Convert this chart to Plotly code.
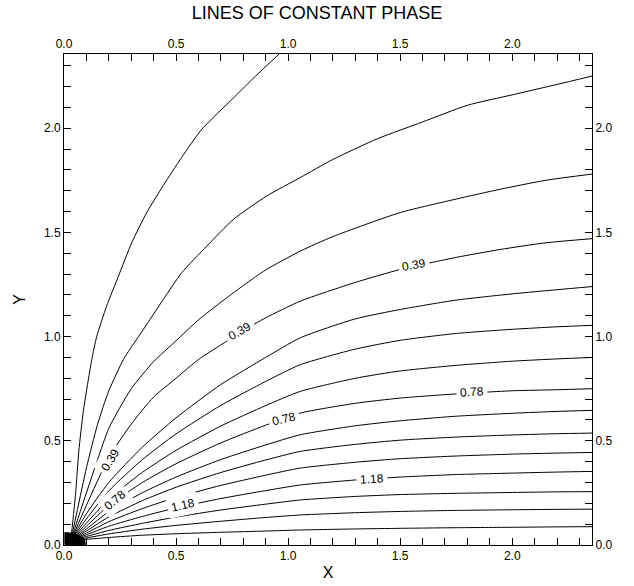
import plotly.graph_objects as go

# ---- data: lines of constant phase ----
x_low = [0.03, 0.1, 0.2, 0.35, 0.5, 0.7, 0.9, 1.054, 1.3, 1.5, 1.75, 2.0, 2.2, 2.356]

line01_x = [0.03, 0.04, 0.052, 0.066, 0.086, 0.105, 0.124, 0.146, 0.19, 0.243, 0.302, 0.369, 0.443, 0.525, 0.615, 0.755, 0.855, 0.96]
line01_y = [0.02, 0.12, 0.25, 0.45, 0.64, 0.77, 0.89, 1.0, 1.146, 1.29, 1.45, 1.595, 1.725, 1.86, 1.995, 2.144, 2.25, 2.356]

line02_x = [0.03, 0.06, 0.1, 0.15, 0.2, 0.265, 0.31, 0.354, 0.443, 0.525, 0.637, 0.756, 0.905, 1.054, 1.2, 1.4, 1.6, 1.8, 2.0, 2.2, 2.356]
line02_y = [0.02, 0.17, 0.37, 0.58, 0.74, 0.89, 0.965, 1.034, 1.178, 1.306, 1.434, 1.5625, 1.675, 1.763, 1.85, 1.95, 2.03, 2.11, 2.16, 2.21, 2.25]

line03_x = [0.03, 0.08, 0.15, 0.2, 0.3, 0.4, 0.5, 0.6, 0.7, 0.8, 0.9, 1.054, 1.2, 1.5, 1.75, 1.946, 2.15, 2.356]
line03_y = [0.02, 0.185, 0.41, 0.56, 0.75, 0.88, 0.98, 1.08, 1.165, 1.245, 1.32, 1.41, 1.48, 1.595, 1.66, 1.707, 1.75, 1.78]

line04_x = [0.03, 0.1, 0.2, 0.3, 0.4, 0.5, 0.6, 0.7, 0.8, 0.9, 1.054, 1.3, 1.5, 1.75, 1.946, 2.15, 2.356]
line04_y = [0.02, 0.19, 0.42, 0.58, 0.71, 0.80, 0.89, 0.96, 1.03, 1.09, 1.17, 1.26, 1.322, 1.38, 1.418, 1.45, 1.47]

line05_y = [0.02, 0.15, 0.30, 0.47, 0.61, 0.77, 0.90, 0.994, 1.085, 1.13, 1.175, 1.205, 1.225, 1.24]
line06_y = [0.02, 0.125, 0.26, 0.41, 0.533, 0.67, 0.785, 0.865, 0.94, 0.982, 1.015, 1.035, 1.047, 1.054]
line07_y = [0.02, 0.105, 0.22, 0.349, 0.454, 0.571, 0.669, 0.737, 0.80, 0.835, 0.862, 0.882, 0.893, 0.90]
line08_y = [0.02, 0.09, 0.19, 0.30, 0.39, 0.49, 0.575, 0.633, 0.68, 0.705, 0.725, 0.74, 0.745, 0.75]
line09_y = [0.02, 0.077, 0.160, 0.251, 0.326, 0.410, 0.480, 0.529, 0.572, 0.596, 0.618, 0.632, 0.641, 0.646]
line10_y = [0.02, 0.067, 0.135, 0.213, 0.277, 0.348, 0.408, 0.449, 0.483, 0.503, 0.518, 0.528, 0.534, 0.537]
line11_y = [0.02, 0.057, 0.112, 0.175, 0.228, 0.286, 0.335, 0.369, 0.397, 0.414, 0.427, 0.436, 0.441, 0.444]
line12_y = [0.02, 0.049, 0.090, 0.137, 0.178, 0.223, 0.261, 0.288, 0.312, 0.326, 0.338, 0.345, 0.350, 0.353]
line13_y = [0.02, 0.041, 0.070, 0.104, 0.134, 0.168, 0.196, 0.216, 0.233, 0.242, 0.248, 0.252, 0.255, 0.256]
line14_y = [0.02, 0.034, 0.053, 0.076, 0.094, 0.114, 0.132, 0.144, 0.155, 0.161, 0.166, 0.169, 0.171, 0.172]
line15_y = [0.02, 0.027, 0.036, 0.047, 0.054, 0.061, 0.067, 0.072, 0.077, 0.080, 0.083, 0.085, 0.087, 0.088]

# unresolved dense region where all phase lines meet (dark patch at the corner)
core_x = [0.004, 0.095, 0.092, 0.07, 0.045, 0.02, 0.004, 0.004]
core_y = [0.002, 0.002, 0.025, 0.042, 0.055, 0.06, 0.06, 0.002]

# contour labels: text, x, y, angle
label_text = ["0.39", "0.39", "0.39", "0.78", "0.78", "0.78", "1.18", "1.18"]
label_x = [1.56, 0.786, 0.205, 1.82, 0.98, 0.228, 1.375, 0.533]
label_y = [1.343, 1.025, 0.41, 0.733, 0.606, 0.216, 0.317, 0.19]
label_angle = [-10, -29, -58, -4, -13, -40, -4, -13]

x_ticks = [0.0, 0.5, 1.0, 1.5, 2.0]
y_ticks = [0.0, 0.5, 1.0, 1.5, 2.0]
axis_max = 2.356

lines = [
    (line01_x, line01_y), (line02_x, line02_y), (line03_x, line03_y), (line04_x, line04_y),
    (x_low, line05_y), (x_low, line06_y), (x_low, line07_y), (x_low, line08_y),
    (x_low, line09_y), (x_low, line10_y), (x_low, line11_y), (x_low, line12_y),
    (x_low, line13_y), (x_low, line14_y), (x_low, line15_y),
]

fig = go.Figure()
for lx, ly in lines:
    fig.add_trace(go.Scatter(x=lx, y=ly, mode="lines",
                             line=dict(color="black", width=1, shape="spline", smoothing=0.6),
                             hoverinfo="skip", showlegend=False))

fig.add_trace(go.Scatter(x=core_x, y=core_y, mode="lines", fill="toself", fillcolor="black",
                         line=dict(color="black", width=1), hoverinfo="skip", showlegend=False))

# invisible trace to anchor mirrored axes
fig.add_trace(go.Scatter(x=[0], y=[0], xaxis="x2", yaxis="y2", mode="markers",
                         marker=dict(opacity=0), hoverinfo="skip", showlegend=False))

for t, lx, ly, ang in zip(label_text, label_x, label_y, label_angle):
    fig.add_annotation(x=lx, y=ly, text=t, showarrow=False, textangle=ang,
                       font=dict(family="Liberation Sans", size=12, color="black"),
                       bgcolor="white", borderpad=3)

tick_font = dict(family="Liberation Sans", size=12, color="black")
common = dict(range=[0, axis_max], tickvals=x_ticks, ticktext=[f"{v:.1f}" for v in x_ticks],
              ticks="inside", ticklen=7, tickcolor="black", tickwidth=1,
              showline=True, linecolor="black", linewidth=1, showgrid=False, zeroline=False,
              tickfont=tick_font, automargin=False,
              minor=dict(dtick=0.1, tick0=0, ticks="inside", ticklen=7, tickcolor="black", showgrid=False))

fig.update_layout(
    width=634, height=586,
    margin=dict(l=64, r=42, t=54, b=41),
    paper_bgcolor="white", plot_bgcolor="white",
    title=dict(text="LINES OF CONSTANT PHASE", x=0.5, xanchor="center", y=1 - 13 / 586, yanchor="middle",
               yref="container", font=dict(family="Liberation Sans", size=18, color="black")),
    xaxis=dict(**common, side="bottom",
               title=dict(text="X", font=dict(family="Liberation Sans", size=16, color="black"), standoff=4)),
    yaxis=dict(**{**common, "tickvals": y_ticks, "ticktext": [f"{v:.1f}" for v in y_ticks]}, side="left",
               title=dict(text="Y", font=dict(family="Liberation Sans", size=16, color="black"), standoff=14)),
    xaxis2=dict(**common, side="top", overlaying="x", anchor="y"),
    yaxis2=dict(**{**common, "tickvals": y_ticks, "ticktext": [f"{v:.1f}" for v in y_ticks]},
                side="right", overlaying="y", anchor="x"),
)

fig.write_html("out.html")
